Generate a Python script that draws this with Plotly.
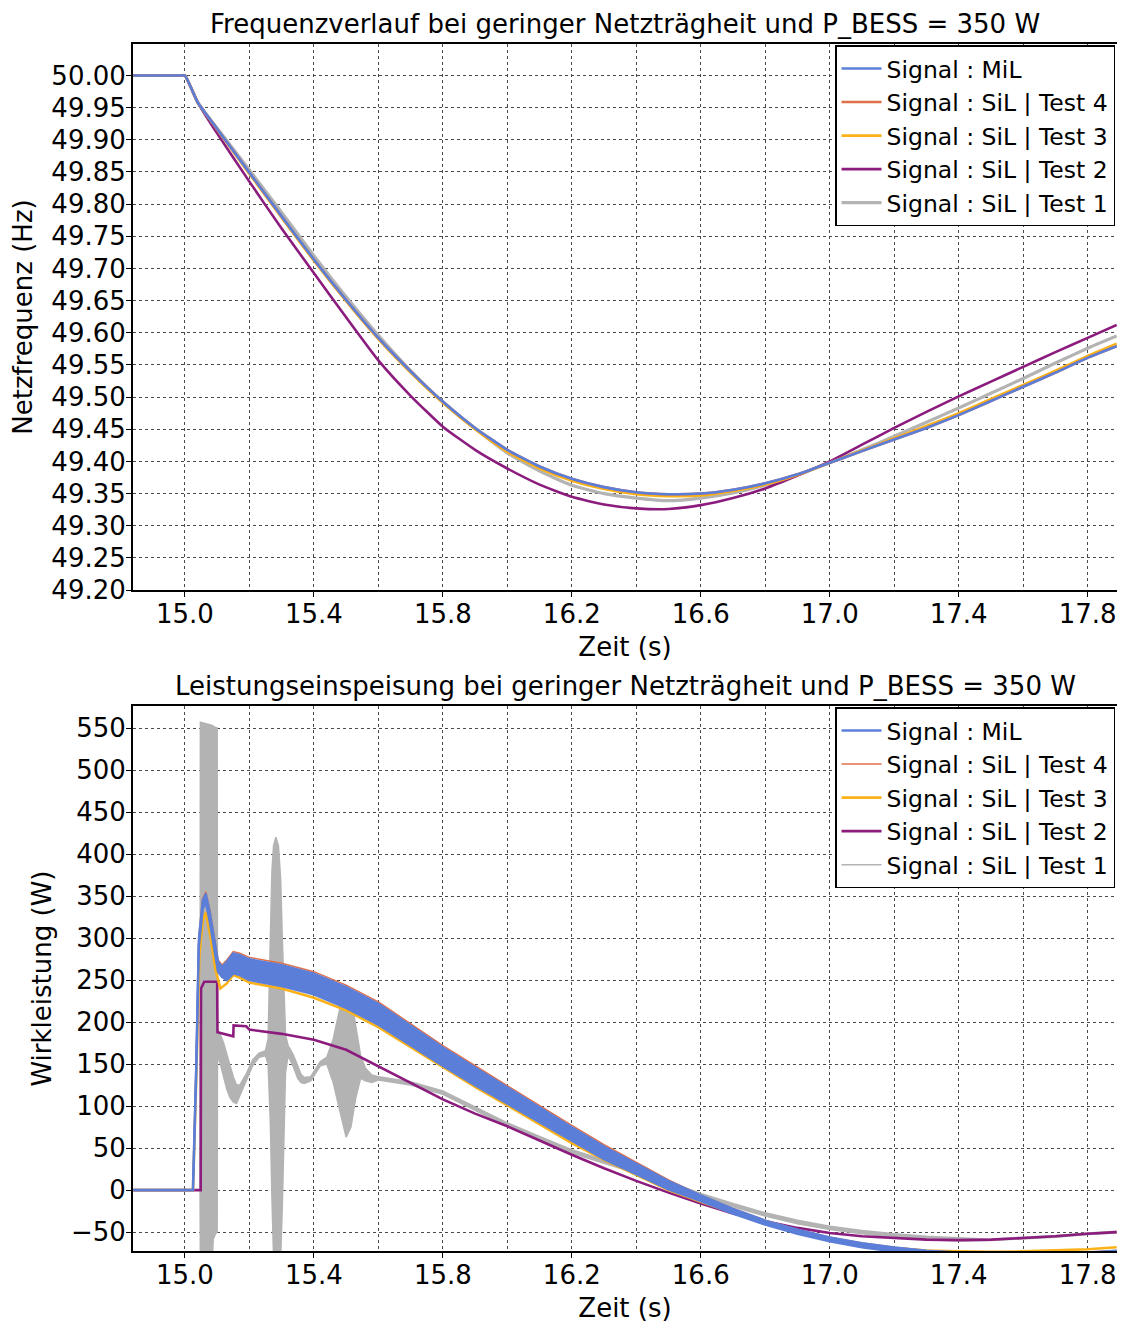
import plotly.graph_objects as go

# ---------------- data: frequency ----------------
T_F = [14.84, 14.99, 15.0, 15.04, 15.1, 15.2, 15.3, 15.4, 15.5, 15.6, 15.7, 15.8, 15.9, 16.0,
       16.1, 16.2, 16.3, 16.4, 16.5, 16.6, 16.7, 16.8, 16.9, 17.0, 17.1, 17.2, 17.3,
       17.4, 17.5, 17.6, 17.7, 17.8, 17.89]
F_MIL = [50.0, 50.0, 50.0, 49.958, 49.917, 49.849, 49.781, 49.714, 49.651, 49.592, 49.540, 49.493,
         49.452, 49.418, 49.392, 49.373, 49.360, 49.352, 49.349, 49.350, 49.356, 49.366,
         49.380, 49.398, 49.416, 49.434, 49.452, 49.472, 49.494, 49.516, 49.538, 49.561, 49.579]
F_T4 = [50.0, 50.0, 50.0, 49.958, 49.917, 49.849, 49.781, 49.714, 49.651, 49.592, 49.540, 49.493,
        49.452, 49.418, 49.392, 49.373, 49.360, 49.352, 49.349, 49.350, 49.356, 49.366,
        49.380, 49.398, 49.416, 49.434, 49.452, 49.472, 49.494, 49.516, 49.538, 49.561, 49.579]
F_T3 = [50.0, 50.0, 50.0, 49.958, 49.916, 49.847, 49.779, 49.712, 49.649, 49.590, 49.538, 49.491,
        49.450, 49.415, 49.389, 49.370, 49.357, 49.349, 49.346, 49.347, 49.354, 49.364,
        49.379, 49.398, 49.417, 49.436, 49.455, 49.475, 49.497, 49.519, 49.541, 49.564, 49.583]
F_T2 = [50.0, 50.0, 50.0, 49.958, 49.910, 49.835, 49.762, 49.693, 49.624, 49.557, 49.502, 49.454,
        49.418, 49.389, 49.364, 49.345, 49.333, 49.327, 49.326, 49.332, 49.343, 49.358,
        49.378, 49.400, 49.426, 49.452, 49.477, 49.501, 49.524, 49.547, 49.570, 49.592, 49.612]
F_T1 = [50.0, 50.0, 50.0, 49.958, 49.918, 49.853, 49.787, 49.720, 49.656, 49.596, 49.541, 49.492,
        49.451, 49.413, 49.385, 49.363, 49.350, 49.343, 49.339, 49.343, 49.351, 49.363,
        49.379, 49.398, 49.418, 49.439, 49.461, 49.483, 49.506, 49.529, 49.553, 49.576, 49.595]

# ---------------- data: power ----------------
T_MIL_P = [14.84, 15.025, 15.035, 15.043, 15.055, 15.065, 15.078, 15.093, 15.103, 15.115,
           15.13, 15.15, 15.17, 15.2, 15.3, 15.4, 15.5, 15.6, 15.7, 15.8, 15.9, 16.0, 16.1,
           16.2, 16.3, 16.4, 16.5, 16.6, 16.7, 16.8, 16.9, 17.0, 17.1, 17.2, 17.3, 17.4,
           17.5, 17.6, 17.7, 17.8, 17.89]
P_MIL_HI = [0, 0, 150, 300, 345, 353, 330, 298, 272, 266, 272, 282, 280, 275, 268, 258, 242,
            222, 196, 170, 146, 122, 98, 75, 52, 31, 11, -6, -22, -36, -47, -56, -63, -68,
            -72, -74, -75, -76, -75, -74, -72]
P_MIL_LO = [0, 0, 140, 290, 335, 343, 318, 285, 260, 254, 250, 258, 256, 250, 243, 233, 217,
            197, 172, 148, 125, 103, 80, 58, 37, 19, 1, -13, -28, -41, -52, -61, -68, -73,
            -76, -78, -79, -79, -78, -77, -75]
P_T4 = [0, 0, 152, 302, 347, 355, 332, 300, 274, 268, 274, 284, 282, 277, 270, 260, 244,
        224, 198, 172, 148, 124, 100, 77, 54, 33, 12, -6, -22, -36, -47, -56, -63, -68,
        -72, -74, -75, -76, -75, -74, -72]

T_T3_P = [14.84, 15.025, 15.035, 15.045, 15.055, 15.065, 15.08, 15.095, 15.11, 15.13, 15.15,
          15.17, 15.2, 15.3, 15.4, 15.5, 15.6, 15.7, 15.8, 15.9, 16.0, 16.1, 16.2, 16.3,
          16.4, 16.5, 16.6, 16.7, 16.8, 16.9, 17.0, 17.1, 17.2, 17.3, 17.4, 17.5, 17.6,
          17.7, 17.8, 17.89]
P_T3 = [0, 0, 130, 280, 320, 331, 300, 262, 240, 246, 256, 253, 247, 240, 229, 214, 194,
        170, 146, 123, 101, 78, 56, 36, 18, 0, -14, -27, -39, -49, -57, -64, -69, -72, -73,
        -73.5, -73, -72, -70.5, -68]

T_T2_P = [14.84, 15.049, 15.05, 15.06, 15.1, 15.101, 15.15, 15.151, 15.19, 15.2, 15.3, 15.4,
          15.5, 15.6, 15.7, 15.8, 15.9, 16.0, 16.1, 16.2, 16.3, 16.4, 16.5, 16.6, 16.7, 16.8,
          16.9, 17.0, 17.1, 17.2, 17.3, 17.4, 17.5, 17.6, 17.7, 17.8, 17.89]
P_T2 = [0, 0, 240, 248, 248, 188, 183, 196, 195, 191, 186, 179, 167, 147, 127, 108, 91, 76,
        59, 42, 26, 11, -3, -16, -28, -37, -45, -51, -55, -57, -59, -59.5, -59, -57, -55,
        -52, -50]

T_T1_P = [14.84, 15.047, 15.048, 15.07, 15.085, 15.088, 15.095, 15.1, 15.101, 15.11, 15.12,
          15.13, 15.14, 15.15, 15.16, 15.17, 15.19, 15.21, 15.23, 15.25, 15.258, 15.265,
          15.27, 15.275, 15.282, 15.29, 15.297, 15.302, 15.307, 15.312, 15.32, 15.335,
          15.35, 15.36, 15.37, 15.39, 15.42, 15.44, 15.46, 15.48, 15.50, 15.515, 15.53,
          15.545, 15.56, 15.58, 15.6, 15.7, 15.8, 15.9, 16.0, 16.1, 16.2, 16.3, 16.4, 16.5,
          16.6, 16.7, 16.8, 16.9, 17.0, 17.1, 17.2, 17.3, 17.4, 17.5, 17.6, 17.7, 17.8, 17.89]
P_T1_LO = [0, 0, -80, -80, -80, -58, -52, -50, 160, 150, 135, 120, 110, 105, 103, 112, 130,
           148, 158, 160, 150, 80, -10, -80, -80, -80, -80, -20, 60, 140, 160, 148, 133, 128,
           127, 130, 148, 150, 128, 95, 63, 75, 110, 133, 130, 128, 131, 125, 114, 95, 76,
           60, 44, 32, 20, 6, -8, -20, -31, -40, -47, -52, -56, -59, -60.5, -60, -58, -56,
           -53, -51]
P_T1_HI = [0, 0, 557, 555, 553, 552, 551, 550, 192, 185, 175, 160, 148, 135, 125, 125, 138,
           155, 163, 166, 180, 300, 380, 410, 420, 410, 370, 300, 240, 185, 172, 162, 148,
           138, 134, 135, 153, 158, 180, 215, 244, 232, 195, 160, 145, 137, 135, 129, 118,
           99, 80, 64, 48, 36, 24, 10, -4, -16, -27, -36, -43, -48, -52, -55, -57, -58.5,
           -56, -54, -51, -49]

NAMES = ["Signal : MiL", "Signal : SiL | Test 4", "Signal : SiL | Test 3",
         "Signal : SiL | Test 2", "Signal : SiL | Test 1"]
COLORS = ["#5b7fd9", "#e0704a", "#fbb117", "#8b1c7e", "#b3b3b3"]

TITLE_TOP = "Frequenzverlauf bei geringer Netzträgheit und P_BESS = 350 W"
TITLE_BOT = "Leistungseinspeisung bei geringer Netzträgheit und P_BESS = 350 W"
FONT = "DejaVu Sans"
FS = 26

fig = go.Figure()

# ---- top: frequency (added bottom-to-top drawing order) ----
for name, col, ys, w in [(NAMES[4], COLORS[4], F_T1, 3.2), (NAMES[3], COLORS[3], F_T2, 2.6),
                         (NAMES[2], COLORS[2], F_T3, 2.6), (NAMES[1], COLORS[1], F_T4, 2.6),
                         (NAMES[0], COLORS[0], F_MIL, 2.6)]:
    fig.add_trace(go.Scatter(x=T_F, y=ys, mode="lines", name=name,
                             line=dict(color=col, width=w, shape="spline", smoothing=0.5),
                             xaxis="x", yaxis="y", legend="legend"))

# ---- bottom: power ----
fig.add_trace(go.Scatter(x=T_T1_P, y=P_T1_LO, mode="lines", name=NAMES[4],
                         line=dict(color=COLORS[4], width=1.5), xaxis="x2", yaxis="y2",
                         legend="legend2", legendgroup="t1"))
fig.add_trace(go.Scatter(x=T_T1_P, y=P_T1_HI, mode="lines", name=NAMES[4], showlegend=False,
                         line=dict(color=COLORS[4], width=1.5), fill="tonexty",
                         fillcolor=COLORS[4], xaxis="x2", yaxis="y2", legendgroup="t1"))
fig.add_trace(go.Scatter(x=T_T2_P, y=P_T2, mode="lines", name=NAMES[3],
                         line=dict(color=COLORS[3], width=2.6), xaxis="x2", yaxis="y2",
                         legend="legend2"))
fig.add_trace(go.Scatter(x=T_T3_P, y=P_T3, mode="lines", name=NAMES[2],
                         line=dict(color=COLORS[2], width=2.6), xaxis="x2", yaxis="y2",
                         legend="legend2"))
fig.add_trace(go.Scatter(x=T_MIL_P, y=P_T4, mode="lines", name=NAMES[1],
                         line=dict(color=COLORS[1], width=1.5), xaxis="x2", yaxis="y2",
                         legend="legend2"))
fig.add_trace(go.Scatter(x=T_MIL_P, y=P_MIL_LO, mode="lines", name=NAMES[0],
                         line=dict(color=COLORS[0], width=2.6), xaxis="x2", yaxis="y2",
                         legend="legend2", legendgroup="mil"))
fig.add_trace(go.Scatter(x=T_MIL_P, y=P_MIL_HI, mode="lines", name=NAMES[0], showlegend=False,
                         line=dict(color=COLORS[0], width=2), fill="tonexty",
                         fillcolor=COLORS[0], xaxis="x2", yaxis="y2", legendgroup="mil"))

GRID = "#4a4a4a"
xcommon = dict(range=[14.839, 17.891], tick0=15.0, dtick=0.4, tickformat=".1f",
               showgrid=True, gridcolor=GRID, griddash="dot", gridwidth=1,
               minor=dict(tick0=15.0, dtick=0.2, showgrid=True, gridcolor=GRID,
                          griddash="dot", gridwidth=1),
               showline=True, linecolor="black", linewidth=2, mirror=True,
               ticks="outside", ticklen=5, tickcolor="black", zeroline=False,
               automargin=False, ticklabelstandoff=-5,
               tickfont=dict(family=FONT, size=FS, color="black"))
ycommon = dict(showgrid=True, gridcolor=GRID, griddash="dot", gridwidth=1,
               showline=True, linecolor="black", linewidth=2, mirror=True,
               ticks="outside", ticklen=5, tickcolor="black", zeroline=False,
               automargin=False, ticklabelstandoff=-5,
               tickfont=dict(family=FONT, size=FS, color="black"))

legend_common = dict(xanchor="right", x=0.998, yanchor="top", bgcolor="white",
                     bordercolor="black", borderwidth=1.5, traceorder="reversed",
                     font=dict(family=FONT, size=23.5, color="black"),
                     itemwidth=40, tracegroupgap=0)

# the page body adds an 8 px offset; margins compensate so the plot areas land at
# x 133..1117, y 44..590 and 706..1251 in the screenshot
fig.update_layout(
    width=1125, height=1329,
    margin=dict(l=125, r=16, t=36, b=86, autoexpand=False),
    paper_bgcolor="white", plot_bgcolor="white",
    font=dict(family=FONT, size=FS, color="black"),
    xaxis=dict(domain=[0, 1], anchor="y",
               title=dict(text="Zeit (s)", standoff=10, font=dict(family=FONT, size=FS)),
               **xcommon),
    yaxis=dict(domain=[0.5476, 1], anchor="x", range=[49.2, 50.049], tick0=49.2, dtick=0.05,
               tickformat=".2f",
               title=dict(text="Netzfrequenz (Hz)", standoff=12, font=dict(family=FONT, size=FS)),
               **ycommon),
    xaxis2=dict(domain=[0, 1], anchor="y2",
                title=dict(text="Zeit (s)", standoff=10, font=dict(family=FONT, size=FS)),
                **xcommon),
    yaxis2=dict(domain=[0, 0.4515], anchor="x2", range=[-72.5, 576.2], tick0=0, dtick=50,
                title=dict(text="Wirkleistung (W)", standoff=12, font=dict(family=FONT, size=FS)),
                **ycommon),
    legend=dict(y=0.999, **legend_common),
    legend2=dict(y=0.4505, **legend_common),
    annotations=[
        dict(text=TITLE_TOP, xref="paper", yref="paper", x=0.5, y=1.0166, xanchor="center",
             yanchor="middle", showarrow=False, font=dict(family=FONT, size=FS, color="black")),
        dict(text=TITLE_BOT, xref="paper", yref="paper", x=0.5, y=0.4681, xanchor="center",
             yanchor="middle", showarrow=False, font=dict(family=FONT, size=FS, color="black")),
    ],
)

fig.write_html("out.html")
